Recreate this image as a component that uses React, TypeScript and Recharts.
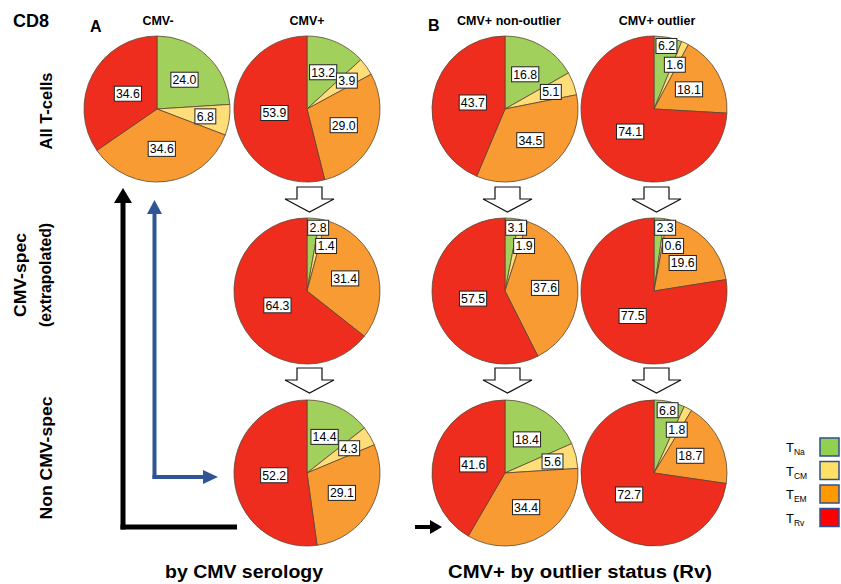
import React from 'react';
import { PieChart, Pie, Cell } from 'recharts';

// ---- data ----
const categories = ['TNa', 'TCM', 'TEM', 'TRv'];
const categorySubs = ['Na', 'CM', 'EM', 'Rv'];

const cmvNegAll = [24.0, 6.8, 34.6, 34.6];
const cmvPosAll = [13.2, 3.9, 29.0, 53.9];
const cmvPosSpec = [2.8, 1.4, 31.4, 64.3];
const cmvPosNonSpec = [14.4, 4.3, 29.1, 52.2];
const nonOutlierAll = [16.8, 5.1, 34.5, 43.7];
const nonOutlierSpec = [3.1, 1.9, 37.6, 57.5];
const nonOutlierNonSpec = [18.4, 5.6, 34.4, 41.6];
const outlierAll = [6.2, 1.6, 18.1, 74.1];
const outlierSpec = [2.3, 0.6, 19.6, 77.5];
const outlierNonSpec = [6.8, 1.8, 18.7, 72.7];

const columnTitles = ['CMV-', 'CMV+', 'CMV+ non-outlier', 'CMV+ outlier'];
const rowTitles = ['All T-cells', 'CMV-spec', '(extrapolated)', 'Non CMV-spec'];
const bottomTitles = ['by CMV serology', 'CMV+ by outlier status  (Rv)'];

// ---- styles ----
const PIE_COLORS = ['#A2D05C', '#FFDE7A', '#F99B33', '#EF2D1F'];
const LEGEND_COLORS = ['#92D050', '#FFE066', '#FF9900', '#FF0000'];
const R = 73;
const FONT = '"Liberation Sans", Arial, sans-serif';

const toData = (vals: number[]) => vals.map((v, i) => ({ name: categories[i], value: v }));

function labelLayout(vals: number[]) {
  const total = vals.reduce((a, b) => a + b, 0);
  let cum = 0;
  let prevAng = -100;
  let prevSmall = false;
  return vals.map((v, i) => {
    const p = (v / total) * 100;
    const mid = ((cum + p / 2) / 100) * 360;
    cum += p;
    let ang = mid;
    let rf = 0.55;
    const small = p < 10;
    if (small) {
      if (i === 0) {
        ang = Math.max(mid, 10);
        rf = 0.88;
      } else {
        ang = prevSmall ? Math.max(mid, prevAng + 13) : mid;
        rf = 0.67;
      }
    } else if (i === vals.length - 1) {
      rf = 0.45;
    }
    prevAng = ang;
    prevSmall = small;
    return { ang, rf };
  });
}

function makeLabel(vals: number[]) {
  const layout = labelLayout(vals);
  return (props: any) => {
    const { cx, cy, index } = props;
    const { ang, rf } = layout[index];
    const rad = (ang * Math.PI) / 180;
    const x = cx + rf * R * Math.sin(rad);
    const y = cy - rf * R * Math.cos(rad);
    const txt = vals[index].toFixed(1);
    const w = txt.length * 6.3 + 2;
    return (
      <g key={`lbl-${index}`}>
        <rect x={x - w / 2} y={y - 7.5} width={w} height={15} fill="#fff" stroke="#222" strokeWidth={1} />
        <text x={x} y={y + 4.4} textAnchor="middle" fontSize={12.3} fontFamily={FONT} fill="#000">
          {txt}
        </text>
      </g>
    );
  };
}

const colX = [157, 307, 505, 654];
const rowY = [109, 291, 473];

const pies = [
  { id: 'a1', vals: cmvNegAll, cx: colX[0], cy: rowY[0] },
  { id: 'b1', vals: cmvPosAll, cx: colX[1], cy: rowY[0] },
  { id: 'b2', vals: cmvPosSpec, cx: colX[1], cy: rowY[1] },
  { id: 'b3', vals: cmvPosNonSpec, cx: colX[1], cy: rowY[2] },
  { id: 'c1', vals: nonOutlierAll, cx: colX[2], cy: rowY[0] },
  { id: 'c2', vals: nonOutlierSpec, cx: colX[2], cy: rowY[1] },
  { id: 'c3', vals: nonOutlierNonSpec, cx: colX[2], cy: rowY[2] },
  { id: 'd1', vals: outlierAll, cx: colX[3], cy: rowY[0] },
  { id: 'd2', vals: outlierSpec, cx: colX[3], cy: rowY[1] },
  { id: 'd3', vals: outlierNonSpec, cx: colX[3], cy: rowY[2] },
];

function HollowArrow({ x, y }: { x: number; y: number }) {
  const pts = [
    [x - 12, y],
    [x + 13, y],
    [x + 13, y + 12],
    [x + 25, y + 12],
    [x + 0.5, y + 25],
    [x - 24, y + 12],
    [x - 12, y + 12],
  ]
    .map((p) => p.join(','))
    .join(' ');
  return <polygon points={pts} fill="#fff" stroke="#111" strokeWidth={1.2} />;
}

function Overlay() {
  const blue = '#2F5597';
  return (
    <svg
      width={841}
      height={584}
      style={{ position: 'absolute', left: 0, top: 0, pointerEvents: 'none' }}
    >
      {/* headings */}
      <text x={13} y={27} fontSize={18} fontWeight="bold" fontFamily={FONT}>CD8</text>
      <text x={90} y={32} fontSize={16} fontWeight="bold" fontFamily={FONT}>A</text>
      <text x={428} y={31} fontSize={16} fontWeight="bold" fontFamily={FONT}>B</text>
      <text x={158} y={25} fontSize={12.5} fontWeight="bold" fontFamily={FONT} textAnchor="middle">{columnTitles[0]}</text>
      <text x={307} y={25} fontSize={12.5} fontWeight="bold" fontFamily={FONT} textAnchor="middle">{columnTitles[1]}</text>
      <text x={509} y={25} fontSize={12.5} fontWeight="bold" fontFamily={FONT} textAnchor="middle">{columnTitles[2]}</text>
      <text x={657} y={25} fontSize={12.5} fontWeight="bold" fontFamily={FONT} textAnchor="middle">{columnTitles[3]}</text>

      {/* row titles */}
      <text transform="translate(52,111) rotate(-90)" fontSize={16} fontWeight="bold" fontFamily={FONT} textAnchor="middle" textLength={77} lengthAdjust="spacingAndGlyphs">{rowTitles[0]}</text>
      <text transform="translate(26,275) rotate(-90)" fontSize={16} fontWeight="bold" fontFamily={FONT} textAnchor="middle" textLength={84} lengthAdjust="spacingAndGlyphs">{rowTitles[1]}</text>
      <text transform="translate(51,275) rotate(-90)" fontSize={16} fontWeight="bold" fontFamily={FONT} textAnchor="middle" textLength={104} lengthAdjust="spacingAndGlyphs">{rowTitles[2]}</text>
      <text transform="translate(52,458) rotate(-90)" fontSize={16} fontWeight="bold" fontFamily={FONT} textAnchor="middle" textLength={123} lengthAdjust="spacingAndGlyphs">{rowTitles[3]}</text>

      {/* bottom titles */}
      <text x={244} y={578} fontSize={18} fontWeight="bold" fontFamily={FONT} textAnchor="middle" textLength={158} lengthAdjust="spacingAndGlyphs">{bottomTitles[0]}</text>
      <text x={580} y={578} fontSize={18} fontWeight="bold" fontFamily={FONT} textAnchor="middle" textLength={264} lengthAdjust="spacingAndGlyphs">{bottomTitles[1]}</text>

      {/* hollow arrows */}
      {colX.slice(1).map((x) => (
        <React.Fragment key={x}>
          <HollowArrow x={x + 2} y={187} />
          <HollowArrow x={x + 2} y={368} />
        </React.Fragment>
      ))}

      {/* black L arrow */}
      <line x1={123} y1={202} x2={123} y2={529.5} stroke="#000" strokeWidth={5} />
      <line x1={120.5} y1={527} x2={237} y2={527} stroke="#000" strokeWidth={5} />
      <polygon points="123,188 114,203 132,203" fill="#000" />
      <line x1={415} y1={527} x2={432} y2={527} stroke="#000" strokeWidth={4} />
      <polygon points="442,527 430,520 430,534" fill="#000" />

      {/* blue L arrow */}
      <line x1={154.5} y1={212} x2={154.5} y2={479} stroke={blue} strokeWidth={4} />
      <line x1={152.5} y1={477} x2={205} y2={477} stroke={blue} strokeWidth={4} />
      <polygon points="154.5,200 147,214 162,214" fill={blue} />
      <polygon points="218,477 203,470 203,484" fill={blue} />

      {/* legend */}
      {categorySubs.map((s, i) => (
        <g key={s}>
          <text x={786} y={452 + i * 23.5} fontSize={13} fontFamily={FONT}>
            T<tspan fontSize={8.5} dy={3}>{s}</tspan>
          </text>
          <rect x={820} y={438 + i * 23.5} width={19} height={18} fill={LEGEND_COLORS[i]} stroke="#2F4F8F" strokeWidth={1.5} />
        </g>
      ))}
    </svg>
  );
}

export default function App() {
  return (
    <div style={{ position: 'absolute', left: 0, top: 0, width: 841, height: 584, background: '#fff' }}>
      <PieChart width={841} height={584} margin={{ top: 0, right: 0, bottom: 0, left: 0 }}>
        {pies.map((p) => (
          <Pie
            key={p.id}
            data={toData(p.vals)}
            dataKey="value"
            nameKey="name"
            cx={p.cx}
            cy={p.cy}
            outerRadius={R}
            startAngle={90}
            endAngle={-270}
            stroke="#5a4632"
            strokeWidth={0.8}
            labelLine={false}
            label={makeLabel(p.vals)}
            isAnimationActive={false}
          >
            {p.vals.map((_, i) => (
              <Cell key={i} fill={PIE_COLORS[i]} />
            ))}
          </Pie>
        ))}
      </PieChart>
      <Overlay />
    </div>
  );
}
